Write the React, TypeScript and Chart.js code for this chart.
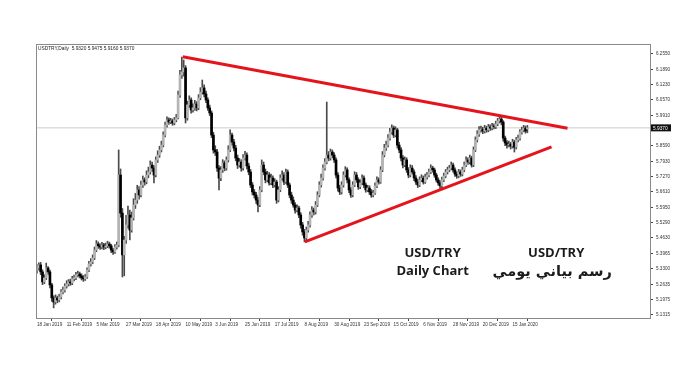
import React, { useEffect, useRef } from 'react';
import { Chart, registerables } from 'chart.js';
Chart.register(...registerables);

// Daily candles, 18 Jan 2019 .. 24 Jan 2020 (bar index 0..264)
const opens = [
  5.325, 5.334, 5.347, 5.317, 5.274, 5.291, 5.334, 5.317, 5.261, 5.205,
  5.187, 5.205, 5.196, 5.209, 5.230, 5.239, 5.256, 5.265, 5.274, 5.269,
  5.287, 5.291, 5.304, 5.308, 5.300, 5.291, 5.287, 5.295, 5.325, 5.351,
  5.360, 5.377, 5.411, 5.437, 5.429, 5.424, 5.433, 5.424, 5.429, 5.437,
  5.429, 5.411, 5.403, 5.424, 5.433, 5.734, 5.570, 5.390, 5.454, 5.519,
  5.562, 5.497, 5.549, 5.605, 5.626, 5.670, 5.648, 5.691, 5.713, 5.704,
  5.734, 5.747, 5.777, 5.764, 5.734, 5.799, 5.820, 5.842, 5.863, 5.906,
  5.949, 5.971, 5.962, 5.967, 5.958, 5.971, 5.980, 6.078, 6.165, 6.178,
  6.195, 5.980, 6.036, 6.057, 6.014, 6.023, 6.040, 6.023, 6.066, 6.091,
  6.109, 6.083, 6.057, 6.023, 6.001, 5.906, 5.842, 5.833, 5.764, 5.721,
  5.756, 5.786, 5.764, 5.799, 5.842, 5.906, 5.876, 5.850, 5.807, 5.777,
  5.790, 5.764, 5.807, 5.820, 5.773, 5.747, 5.691, 5.661, 5.648, 5.626,
  5.605, 5.670, 5.777, 5.747, 5.713, 5.734, 5.700, 5.721, 5.691, 5.704,
  5.626, 5.670, 5.721, 5.734, 5.704, 5.747, 5.691, 5.648, 5.626, 5.605,
  5.583, 5.592, 5.562, 5.519, 5.489, 5.463, 5.497, 5.519, 5.562, 5.583,
  5.575, 5.605, 5.648, 5.691, 5.721, 5.764, 5.790, 5.820, 5.807, 5.833,
  5.820, 5.799, 5.734, 5.678, 5.661, 5.691, 5.734, 5.756, 5.713, 5.670,
  5.648, 5.691, 5.734, 5.713, 5.683, 5.700, 5.721, 5.691, 5.670, 5.678,
  5.661, 5.648, 5.657, 5.687, 5.713, 5.704, 5.756, 5.820, 5.850, 5.863,
  5.893, 5.919, 5.936, 5.906, 5.928, 5.863, 5.842, 5.807, 5.777, 5.799,
  5.756, 5.734, 5.764, 5.747, 5.721, 5.704, 5.691, 5.713, 5.721, 5.704,
  5.725, 5.734, 5.747, 5.764, 5.756, 5.734, 5.713, 5.700, 5.687, 5.713,
  5.730, 5.747, 5.756, 5.764, 5.777, 5.756, 5.738, 5.730, 5.747, 5.738,
  5.756, 5.777, 5.799, 5.790, 5.807, 5.777, 5.842, 5.885, 5.910, 5.928,
  5.932, 5.923, 5.936, 5.928, 5.941, 5.936, 5.945, 5.941, 5.954, 5.967,
  5.975, 5.962, 5.893, 5.872, 5.863, 5.867, 5.859, 5.876, 5.854, 5.885,
  5.893, 5.919, 5.928, 5.936, 5.932,
];
const highs = [
  5.348, 5.356, 5.358, 5.326, 5.305, 5.355, 5.340, 5.325, 5.268, 5.214,
  5.218, 5.213, 5.221, 5.241, 5.252, 5.266, 5.279, 5.284, 5.286, 5.298,
  5.303, 5.315, 5.320, 5.316, 5.309, 5.301, 5.306, 5.334, 5.362, 5.374,
  5.390, 5.424, 5.452, 5.446, 5.438, 5.444, 5.440, 5.441, 5.449, 5.445,
  5.436, 5.418, 5.435, 5.446, 5.842, 5.760, 5.590, 5.470, 5.560, 5.600,
  5.583, 5.575, 5.632, 5.655, 5.690, 5.684, 5.708, 5.730, 5.722, 5.752,
  5.768, 5.795, 5.790, 5.775, 5.812, 5.838, 5.858, 5.880, 5.920, 5.962,
  5.984, 5.980, 5.978, 5.975, 5.982, 5.995, 6.095, 6.185, 6.242, 6.229,
  6.205, 6.052, 6.075, 6.066, 6.040, 6.055, 6.050, 6.080, 6.110, 6.143,
  6.122, 6.095, 6.066, 6.035, 6.010, 5.918, 5.860, 5.845, 5.775, 5.770,
  5.800, 5.795, 5.812, 5.860, 5.928, 5.915, 5.888, 5.862, 5.820, 5.805,
  5.800, 5.822, 5.836, 5.830, 5.785, 5.758, 5.702, 5.672, 5.660, 5.638,
  5.684, 5.799, 5.790, 5.760, 5.750, 5.745, 5.738, 5.730, 5.718, 5.712,
  5.684, 5.735, 5.752, 5.745, 5.760, 5.756, 5.700, 5.660, 5.640, 5.615,
  5.606, 5.600, 5.572, 5.530, 5.500, 5.510, 5.535, 5.575, 5.598, 5.592,
  5.620, 5.662, 5.705, 5.738, 5.778, 5.805, 6.048, 5.835, 5.846, 5.842,
  5.830, 5.808, 5.745, 5.690, 5.705, 5.748, 5.770, 5.765, 5.722, 5.680,
  5.705, 5.748, 5.745, 5.722, 5.714, 5.735, 5.730, 5.700, 5.690, 5.688,
  5.672, 5.668, 5.700, 5.726, 5.722, 5.770, 5.835, 5.866, 5.880, 5.908,
  5.935, 5.950, 5.945, 5.942, 5.935, 5.875, 5.852, 5.818, 5.812, 5.808,
  5.766, 5.778, 5.775, 5.756, 5.732, 5.715, 5.726, 5.735, 5.730, 5.738,
  5.746, 5.760, 5.778, 5.772, 5.764, 5.742, 5.722, 5.710, 5.725, 5.742,
  5.758, 5.768, 5.776, 5.790, 5.785, 5.765, 5.748, 5.758, 5.756, 5.768,
  5.790, 5.812, 5.808, 5.820, 5.815, 5.855, 5.898, 5.925, 5.942, 5.945,
  5.940, 5.948, 5.944, 5.952, 5.950, 5.956, 5.954, 5.966, 5.978, 5.988,
  5.984, 5.968, 5.902, 5.882, 5.880, 5.875, 5.888, 5.884, 5.896, 5.906,
  5.930, 5.940, 5.948, 5.945, 5.9475,
];
const lows = [
  5.312, 5.325, 5.305, 5.262, 5.266, 5.284, 5.306, 5.248, 5.190, 5.162,
  5.178, 5.184, 5.188, 5.201, 5.222, 5.230, 5.247, 5.256, 5.259, 5.262,
  5.278, 5.283, 5.295, 5.291, 5.282, 5.276, 5.280, 5.289, 5.318, 5.342,
  5.352, 5.370, 5.404, 5.418, 5.414, 5.416, 5.413, 5.416, 5.421, 5.419,
  5.400, 5.392, 5.396, 5.415, 5.425, 5.552, 5.295, 5.300, 5.440, 5.505,
  5.455, 5.488, 5.540, 5.590, 5.612, 5.630, 5.640, 5.680, 5.690, 5.696,
  5.722, 5.738, 5.750, 5.700, 5.726, 5.788, 5.810, 5.833, 5.855, 5.898,
  5.940, 5.952, 5.955, 5.948, 5.950, 5.963, 5.975, 6.068, 6.150, 6.160,
  5.958, 5.970, 6.025, 6.000, 6.005, 6.012, 6.010, 6.015, 6.058, 6.082,
  6.070, 6.045, 6.012, 5.990, 5.895, 5.828, 5.818, 5.750, 5.670, 5.710,
  5.745, 5.752, 5.755, 5.790, 5.835, 5.862, 5.838, 5.795, 5.762, 5.768,
  5.750, 5.755, 5.798, 5.760, 5.735, 5.680, 5.648, 5.635, 5.612, 5.575,
  5.598, 5.662, 5.735, 5.700, 5.705, 5.690, 5.692, 5.680, 5.682, 5.612,
  5.618, 5.662, 5.712, 5.692, 5.698, 5.680, 5.636, 5.612, 5.595, 5.570,
  5.575, 5.550, 5.505, 5.475, 5.446, 5.455, 5.488, 5.510, 5.552, 5.562,
  5.566, 5.598, 5.640, 5.682, 5.712, 5.755, 5.782, 5.795, 5.798, 5.808,
  5.788, 5.722, 5.665, 5.650, 5.652, 5.682, 5.725, 5.700, 5.658, 5.638,
  5.640, 5.684, 5.702, 5.672, 5.675, 5.692, 5.680, 5.660, 5.662, 5.650,
  5.638, 5.640, 5.650, 5.680, 5.695, 5.698, 5.748, 5.812, 5.840, 5.855,
  5.884, 5.910, 5.895, 5.898, 5.850, 5.830, 5.795, 5.765, 5.770, 5.745,
  5.722, 5.726, 5.738, 5.710, 5.694, 5.680, 5.684, 5.705, 5.695, 5.698,
  5.716, 5.726, 5.740, 5.746, 5.724, 5.704, 5.690, 5.674, 5.680, 5.705,
  5.722, 5.738, 5.748, 5.756, 5.746, 5.728, 5.720, 5.722, 5.728, 5.730,
  5.748, 5.770, 5.780, 5.782, 5.768, 5.770, 5.835, 5.876, 5.900, 5.918,
  5.912, 5.915, 5.918, 5.920, 5.926, 5.928, 5.932, 5.934, 5.946, 5.958,
  5.950, 5.880, 5.860, 5.850, 5.855, 5.846, 5.850, 5.833, 5.846, 5.876,
  5.884, 5.910, 5.920, 5.914, 5.916,
];
const closes = [
  5.334, 5.347, 5.317, 5.274, 5.291, 5.334, 5.317, 5.261, 5.205, 5.187,
  5.205, 5.196, 5.209, 5.230, 5.239, 5.256, 5.265, 5.274, 5.269, 5.287,
  5.291, 5.304, 5.308, 5.300, 5.291, 5.287, 5.295, 5.325, 5.351, 5.360,
  5.377, 5.411, 5.437, 5.429, 5.424, 5.433, 5.424, 5.429, 5.437, 5.429,
  5.411, 5.403, 5.424, 5.433, 5.734, 5.570, 5.390, 5.454, 5.519, 5.562,
  5.497, 5.549, 5.605, 5.626, 5.670, 5.648, 5.691, 5.713, 5.704, 5.734,
  5.747, 5.777, 5.764, 5.734, 5.799, 5.820, 5.842, 5.863, 5.906, 5.949,
  5.971, 5.962, 5.967, 5.958, 5.971, 5.980, 6.078, 6.165, 6.178, 6.195,
  5.980, 6.036, 6.057, 6.014, 6.023, 6.040, 6.023, 6.066, 6.091, 6.109,
  6.083, 6.057, 6.023, 6.001, 5.906, 5.842, 5.833, 5.764, 5.721, 5.756,
  5.786, 5.764, 5.799, 5.842, 5.906, 5.876, 5.850, 5.807, 5.777, 5.790,
  5.764, 5.807, 5.820, 5.773, 5.747, 5.691, 5.661, 5.648, 5.626, 5.605,
  5.670, 5.777, 5.747, 5.713, 5.734, 5.700, 5.721, 5.691, 5.704, 5.626,
  5.670, 5.721, 5.734, 5.704, 5.747, 5.691, 5.648, 5.626, 5.605, 5.583,
  5.592, 5.562, 5.519, 5.489, 5.463, 5.497, 5.519, 5.562, 5.583, 5.575,
  5.605, 5.648, 5.691, 5.721, 5.764, 5.790, 5.820, 5.807, 5.833, 5.820,
  5.799, 5.734, 5.678, 5.661, 5.691, 5.734, 5.756, 5.713, 5.670, 5.648,
  5.691, 5.734, 5.713, 5.683, 5.700, 5.721, 5.691, 5.670, 5.678, 5.661,
  5.648, 5.657, 5.687, 5.713, 5.704, 5.756, 5.820, 5.850, 5.863, 5.893,
  5.919, 5.936, 5.906, 5.928, 5.863, 5.842, 5.807, 5.777, 5.799, 5.756,
  5.734, 5.764, 5.747, 5.721, 5.704, 5.691, 5.713, 5.721, 5.704, 5.725,
  5.734, 5.747, 5.764, 5.756, 5.734, 5.713, 5.700, 5.687, 5.713, 5.730,
  5.747, 5.756, 5.764, 5.777, 5.756, 5.738, 5.730, 5.747, 5.738, 5.756,
  5.777, 5.799, 5.790, 5.807, 5.777, 5.842, 5.885, 5.910, 5.928, 5.932,
  5.923, 5.936, 5.928, 5.941, 5.936, 5.945, 5.941, 5.954, 5.967, 5.975,
  5.962, 5.893, 5.872, 5.863, 5.867, 5.859, 5.876, 5.854, 5.885, 5.893,
  5.919, 5.928, 5.936, 5.923, 5.937,
];

const dateTickBars = [0, 16, 32, 48, 64, 80, 96, 112, 128, 144, 160, 176, 192, 208, 224, 240, 256];
const dateLabels = [
  '18 Jan 2019', '11 Feb 2019', '5 Mar 2019', '27 Mar 2019', '18 Apr 2019', '10 May 2019',
  '3 Jun 2019', '25 Jun 2019', '17 Jul 2019', '8 Aug 2019', '30 Aug 2019', '23 Sep 2019',
  '15 Oct 2019', '6 Nov 2019', '28 Nov 2019', '20 Dec 2019', '15 Jan 2020',
];
const priceTicks = [
  6.255, 6.189, 6.123, 6.057, 5.991, 5.859, 5.793, 5.727, 5.661, 5.595,
  5.529, 5.463, 5.3965, 5.33, 5.2635, 5.1975, 5.1315,
];
const currentPrice = 5.937;
const headerText = 'USDTRY,Daily  5.9320 5.9475 5.9160 5.9370';

const upperTrend = [
  { x: 78.5, y: 6.243 },
  { x: 285.6, y: 5.935 },
];
const lowerTrend = [
  { x: 144.2, y: 5.446 },
  { x: 277.0, y: 5.855 },
];

const titleLines = ['USD/TRY', 'Daily Chart'];
const arabicLines = ['USD/TRY', 'رسم بياني يومي'];

export default function App() {
  const ref = useRef<HTMLCanvasElement>(null);

  useEffect(() => {
    document.body.style.margin = '0';
    const canvas = ref.current;
    if (!canvas) return;

    const wickData = closes.map((c, i) => ({ x: i, y: [lows[i], highs[i]] }));
    const bodyData = closes.map((c, i) => ({ x: i, y: [opens[i], c] }));

    const overlay = {
      id: 'overlay',
      afterDraw(chart: any) {
        const { ctx, chartArea, scales } = chart;
        ctx.save();
        // frame
        ctx.strokeStyle = '#8a8a8a';
        ctx.lineWidth = 1;
        ctx.strokeRect(
          Math.round(chartArea.left) + 0.5,
          Math.round(chartArea.top) + 0.5,
          Math.round(chartArea.right - chartArea.left),
          Math.round(chartArea.bottom - chartArea.top)
        );
        // header
        ctx.fillStyle = '#222';
        ctx.font = '4.8px "Liberation Sans", Arial, sans-serif';
        ctx.textBaseline = 'top';
        ctx.textAlign = 'left';
        ctx.fillText(headerText, chartArea.left + 2, chartArea.top + 2);
        // current price tag
        const py = scales.y.getPixelForValue(currentPrice);
        const tx = chartArea.right + 1;
        ctx.fillStyle = '#111';
        ctx.fillRect(tx, py - 3.5, 20, 7);
        ctx.fillStyle = '#fff';
        ctx.textBaseline = 'middle';
        ctx.fillText(currentPrice.toFixed(4), tx + 2, py + 0.5);
        // titles
        ctx.fillStyle = '#1b1b1b';
        ctx.textAlign = 'center';
        ctx.textBaseline = 'alphabetic';
        ctx.font = 'bold 13px "Open Sans", Lato, sans-serif';
        const cx1 = scales.x.getPixelForValue(213);
        const cx2 = scales.x.getPixelForValue(279.5);
        const yBase1 = scales.y.getPixelForValue(5.38);
        const yBase2 = scales.y.getPixelForValue(5.305);
        ctx.fillText(titleLines[0], cx1, yBase1);
        ctx.fillText(titleLines[1], cx1, yBase2);
        ctx.fillText(arabicLines[0], cx2, yBase1);
        ctx.font = 'bold 14.5px "DejaVu Sans", "Noto Sans", sans-serif';
        ctx.direction = 'rtl';
        ctx.fillText(arabicLines[1], cx2 - 4, yBase2 + 1);
        ctx.restore();
      },
    };

    const chart = new Chart(canvas, {
      type: 'bar',
      data: {
        datasets: [
          {
            type: 'line',
            label: 'price',
            data: [
              { x: -0.5, y: currentPrice },
              { x: 330, y: currentPrice },
            ],
            borderColor: '#cccccc',
            borderWidth: 1,
            pointRadius: 0,
            order: 5,
          } as any,
          {
            type: 'bar',
            label: 'wick',
            data: wickData as any,
            backgroundColor: '#4a4a4a',
            borderWidth: 0,
            barThickness: 1,
            grouped: false,
            order: 3,
          },
          {
            type: 'bar',
            label: 'body',
            data: bodyData as any,
            backgroundColor: (c: any) =>
              closes[c.dataIndex] >= opens[c.dataIndex] ? '#b4b4b4' : '#000000',
            borderWidth: 0,
            barThickness: 2,
            grouped: false,
            minBarLength: 1,
            order: 2,
          },
          {
            type: 'line',
            label: 'upper',
            data: upperTrend,
            borderColor: '#e5141c',
            borderWidth: 3,
            pointRadius: 0,
            order: 0,
          } as any,
          {
            type: 'line',
            label: 'lower',
            data: lowerTrend,
            borderColor: '#e5141c',
            borderWidth: 3,
            pointRadius: 0,
            order: 0,
          } as any,
        ],
      },
      options: {
        responsive: false,
        animation: false,
        devicePixelRatio: 1,
        layout: { padding: { left: 36, top: 44, right: 0, bottom: 32 } },
        plugins: { legend: { display: false }, tooltip: { enabled: false } },
        scales: {
          x: {
            type: 'linear',
            min: -0.5,
            max: 330,
            offset: false,
            border: { display: false },
            grid: { display: true, drawOnChartArea: false, drawTicks: true, tickLength: 3, color: '#444' },
            afterBuildTicks: (s: any) => {
              s.ticks = dateTickBars.map((v) => ({ value: v }));
            },
            afterFit: (s: any) => {
              s.height = 20;
            },
            ticks: {
              autoSkip: false,
              maxRotation: 0,
              align: 'start',
              padding: 1,
              color: '#333',
              font: { size: 4.6, family: '"Liberation Sans", Arial, sans-serif' },
              callback: (v: any) => {
                const k = dateTickBars.indexOf(Number(v));
                return k >= 0 ? dateLabels[k] : '';
              },
            },
          },
          y: {
            type: 'linear',
            position: 'right',
            min: 5.1185,
            max: 6.298,
            border: { display: false },
            grid: { display: true, drawOnChartArea: false, drawTicks: true, tickLength: 3, color: '#444' },
            afterBuildTicks: (s: any) => {
              s.ticks = priceTicks.map((v) => ({ value: v }));
            },
            afterFit: (s: any) => {
              s.width = 50;
            },
            ticks: {
              autoSkip: false,
              padding: 3,
              color: '#333',
              font: { size: 4.6, family: '"Liberation Sans", Arial, sans-serif' },
              callback: (v: any) => Number(v).toFixed(4),
            },
          },
        },
      },
      plugins: [overlay],
    });

    return () => chart.destroy();
  }, []);

  return (
    <div style={{ width: 700, height: 370, background: '#ffffff', position: 'relative' }}>
      <canvas ref={ref} width={700} height={370} style={{ display: 'block' }} />
    </div>
  );
}
